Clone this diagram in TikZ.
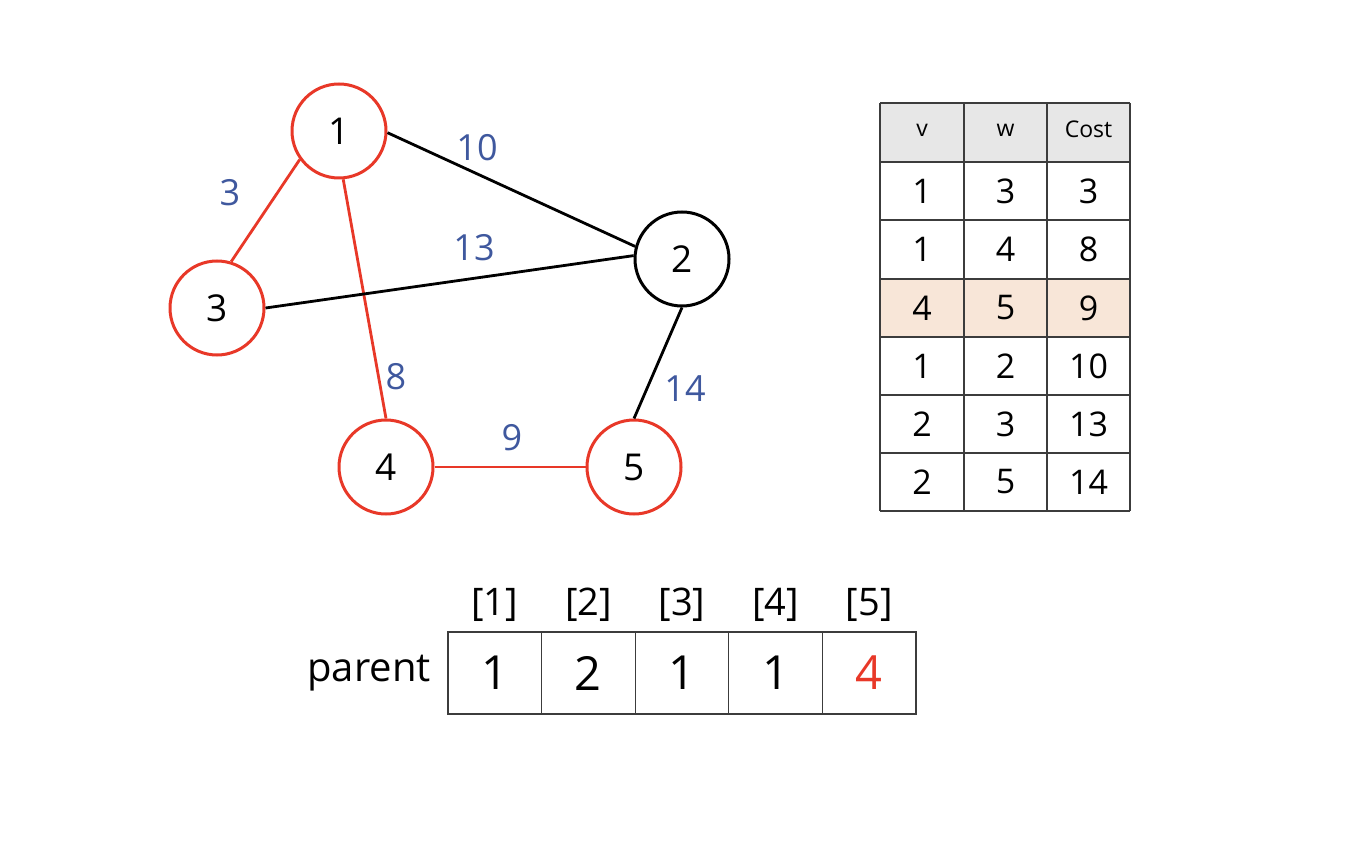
\documentclass[tikz,border=0pt]{standalone}
\usepackage{fontspec}
\setmainfont{Open Sans}
\definecolor{nred}{RGB}{232,56,40}
\definecolor{lblue}{RGB}{63,88,158}
\definecolor{hdr}{RGB}{231,231,231}
\definecolor{hl}{RGB}{248,230,216}
\definecolor{gridc}{RGB}{60,60,60}
\begin{document}
\begin{tikzpicture}[x=1pt,y=-1pt,
  vtx/.style={circle,draw=nred,line width=3pt,minimum size=94pt,inner sep=0pt,font=\fontsize{37}{42}\selectfont},
  vtxb/.style={vtx,draw=black},
  redge/.style={draw=nred,line width=2.8pt},
  bedge/.style={draw=black,line width=2.8pt},
  elbl/.style={text=lblue,inner sep=0pt,font=\fontsize{36}{40}\selectfont},
  tcell/.style={inner sep=0pt,font=\fontsize{34}{38}\selectfont},
  thead/.style={inner sep=0pt,font=\fontsize{23}{28}\selectfont},
  pcell/.style={draw=gridc,line width=1.1pt,minimum width=93.6pt,minimum height=82pt,inner sep=0pt,font=\fontsize{47}{52}\selectfont},
  pidx/.style={inner sep=0pt,font=\fontsize{38}{42}\selectfont},
  plbl/.style={inner sep=0pt,font=\fontsize{40}{44}\selectfont}
]
\useasboundingbox (0,0) rectangle (1356,858);

% graph nodes
\node[vtx]  (n1) at (339,131) {1};
\node[vtxb] (n2) at (682,259) {2};
\node[vtx]  (n3) at (217,308) {3};
\node[vtx]  (n4) at (386,467) {4};
\node[vtx]  (n5) at (634,467) {5};

% edges
\draw[redge] (n1.216) -- (n3.73);
\draw[redge] (n1.275) -- (n4.90);
\draw[redge] (n4.east) -- (n5.west);
\draw[bedge] (n1.358) -- (n2.165);
\draw[bedge] (n3.0) -- (n2.176);
\draw[bedge] (n2.270) -- (n5.90);

% edge labels
\node[elbl] (l10) at (477,148) {10};
\node[elbl] (l3)  at (230,193) {3};
\node[elbl] (l13) at (474,248) {13};
\node[elbl] (l8)  at (396,377) {8};
\node[elbl] (l14) at (685,389) {14};
\node[elbl] (l9)  at (512,438) {9};

% table
\fill[hdr] (880,103) rectangle (1130,162);
\fill[hl]  (880,279) rectangle (1130,337);
\foreach \yy in {103,162,220,279,337,395,453,511}
  \draw[gridc,line width=1.1pt] (880,\yy) -- (1130,\yy);
\foreach \xx in {880,964,1047,1130}
  \draw[gridc,line width=1.1pt] (\xx,103) -- (\xx,511);

\node[thead] (hv) at (922,130) {v};
\node[thead] (hw) at (1005.5,130) {w};
\node[thead] (hc) at (1088.5,129) {Cost};

\node[tcell] (a1) at (922,191) {1};   \node[tcell] (b1) at (1005.5,191) {3};   \node[tcell] (c1) at (1088.5,191) {3};
\node[tcell] (a2) at (922,249.5) {1}; \node[tcell] (b2) at (1005.5,249.5) {4}; \node[tcell] (c2) at (1088.5,249.5) {8};
\node[tcell] (a3) at (922,308) {4};   \node[tcell] (b3) at (1005.5,308) {5};   \node[tcell] (c3) at (1088.5,308) {9};
\node[tcell] (a4) at (922,366) {1};   \node[tcell] (b4) at (1005.5,366) {2};   \node[tcell] (c4) at (1088.5,366) {10};
\node[tcell] (a5) at (922,424) {2};   \node[tcell] (b5) at (1005.5,424) {3};   \node[tcell] (c5) at (1088.5,424) {13};
\node[tcell] (a6) at (922,482) {2};   \node[tcell] (b6) at (1005.5,482) {5};   \node[tcell] (c6) at (1088.5,482) {14};

% parent array
\node[pcell] (p1) at (494.8,673) {1};
\node[pcell] (p2) at (588.4,673) {2};
\node[pcell] (p3) at (682,673) {1};
\node[pcell] (p4) at (775.6,673) {1};
\node[pcell,text=nred] (p5) at (869.2,673) {4};

\node[pidx] (i1) at (494.8,605) {[1]};
\node[pidx] (i2) at (588.4,605) {[2]};
\node[pidx] (i3) at (682,605) {[3]};
\node[pidx] (i4) at (775.6,605) {[4]};
\node[pidx] (i5) at (869.2,605) {[5]};

\node[plbl,anchor=east] (plabel) at (431,673) {parent};
\end{tikzpicture}
\end{document}
